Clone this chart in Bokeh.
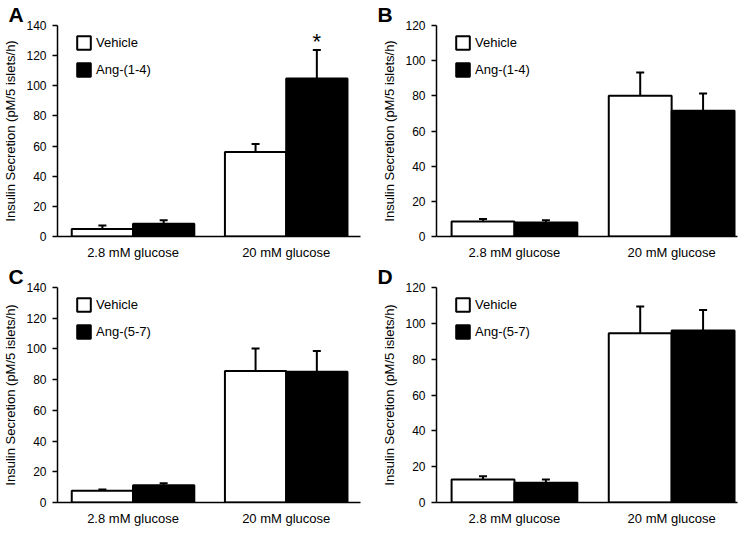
from bokeh.plotting import figure
from bokeh.models import (Range1d, FixedTicker, Whisker, TeeHead, ColumnDataSource)
from bokeh.layouts import column, row
from bokeh.embed import file_html
from bokeh.resources import INLINE
from bokeh.core.properties import value

# ---------------- data ----------------
categories = ["2.8 mM glucose", "20 mM glucose"]
series_names = ["Vehicle", "Ang-(1-4)", "Ang-(5-7)"]

# Panel A: Vehicle vs Ang-(1-4)
a_vehicle = [5.0, 56.0]
a_vehicle_err = [2.3, 5.3]
a_ang = [8.4, 104.9]
a_ang_err = [2.4, 18.8]
a_star = [False, True]

# Panel B: Vehicle vs Ang-(1-4)
b_vehicle = [8.5, 80.0]
b_vehicle_err = [1.4, 13.3]
b_ang = [8.0, 71.5]
b_ang_err = [1.3, 9.8]

# Panel C: Vehicle vs Ang-(5-7)
c_vehicle = [7.6, 85.7]
c_vehicle_err = [0.8, 14.5]
c_ang = [11.3, 85.1]
c_ang_err = [1.3, 13.6]

# Panel D: Vehicle vs Ang-(5-7)
d_vehicle = [12.8, 94.5]
d_vehicle_err = [1.9, 14.9]
d_ang = [11.0, 96.0]
d_ang_err = [1.8, 11.5]

y_ticks_140 = [0, 20, 40, 60, 80, 100, 120, 140]
y_ticks_120 = [0, 20, 40, 60, 80, 100, 120]
y_label = "Insulin Secretion (pM/5 islets/h)"

FONT = "Liberation Sans"


def make_panel(letter, veh, veh_err, ang, ang_err, ang_name, yticks, stars,
               fw, fh, left, right, top, bottom, xr, label_standoff):
    p = figure(frame_width=fw, frame_height=fh, output_backend="svg", toolbar_location=None,
               x_range=Range1d(*xr), y_range=Range1d(yticks[0], yticks[-1]),
               min_border_left=left, min_border_right=right,
               min_border_top=top, min_border_bottom=bottom)
    p.outline_line_color = None
    p.xgrid.grid_line_color = None
    p.ygrid.grid_line_color = None
    p.background_fill_color = "white"
    p.border_fill_color = "white"

    # panel letter as a left-aligned title shifted over the y axis area
    p.title.text = letter
    p.title.align = "left"
    p.title.offset = -(left - 2)
    p.title.standoff = 0
    p.title.text_font = FONT
    p.title.text_font_size = "21px"
    p.title.text_font_style = "bold"
    p.title.text_color = "black"

    centers = [i + 1 for i in range(len(categories))]
    half = 0.2
    xv = [c - half for c in centers]
    xa = [c + half for c in centers]

    p.vbar(x=xv, top=veh, bottom=0, width=2 * half, fill_color="white",
           line_color="black", line_width=2, legend_label=series_names[0])
    p.vbar(x=xa, top=ang, bottom=0, width=2 * half, fill_color="black",
           line_color="black", line_width=2, legend_label=ang_name)

    src = ColumnDataSource(dict(
        x=xv + xa,
        lower=list(veh) + list(ang),
        upper=[m + e for m, e in zip(veh, veh_err)] + [m + e for m, e in zip(ang, ang_err)],
    ))
    w = Whisker(source=src, base="x", lower="lower", upper="upper", dimension="height",
                line_color="black", line_width=2, level="overlay",
                upper_head=TeeHead(size=8, line_color="black", line_width=2),
                lower_head=None)
    p.add_layout(w)

    if stars is not None:
        sx = [xa[i] for i in range(len(xa)) if stars[i]]
        sy = [ang[i] + ang_err[i] for i in range(len(xa)) if stars[i]]
        p.text(x=sx, y=sy, text=["*"] * len(sx), text_align="center",
               text_baseline="alphabetic", text_font=value(FONT),
               text_font_size="22px", text_color="black", y_offset=-9)

    # axes
    p.xaxis.ticker = FixedTicker(ticks=centers)
    p.xaxis.major_label_overrides = {c: lab for c, lab in zip(centers, categories)}
    p.xaxis.major_tick_line_color = None
    p.xaxis.major_tick_out = 0
    p.xaxis.major_tick_in = 0
    p.xaxis.minor_tick_line_color = None
    p.xaxis.axis_line_width = 1.5
    p.xaxis.axis_line_color = "black"
    p.xaxis.major_label_text_font = FONT
    p.xaxis.major_label_text_font_size = "13px"
    p.xaxis.major_label_text_color = "black"
    p.xaxis.major_label_standoff = label_standoff

    p.yaxis.ticker = FixedTicker(ticks=yticks)
    p.yaxis.minor_tick_line_color = None
    p.yaxis.major_tick_in = 0
    p.yaxis.major_tick_out = 5
    p.yaxis.major_tick_line_width = 1.5
    p.yaxis.axis_line_width = 1.5
    p.yaxis.axis_line_color = "black"
    p.yaxis.major_tick_line_color = "black"
    p.yaxis.major_label_text_font = FONT
    p.yaxis.major_label_text_font_size = "12px"
    p.yaxis.major_label_text_color = "black"
    p.yaxis.major_label_standoff = 6
    p.yaxis.axis_label = y_label
    p.yaxis.axis_label_text_font = FONT
    p.yaxis.axis_label_text_font_size = "13px"
    p.yaxis.axis_label_text_font_style = "normal"
    p.yaxis.axis_label_text_color = "black"
    p.yaxis.axis_label_standoff = 5

    # legend
    lg = p.legend[0]
    lg.glyph_width = 17
    lg.glyph_height = 17
    lg.label_height = 17
    lg.spacing = 10
    lg.padding = 0
    lg.margin = 0
    lg.location = (18, fh - 9 - (2 * 17 + 10))
    lg.border_line_color = None
    lg.background_fill_alpha = 0
    lg.label_text_font = FONT
    lg.label_text_font_size = "13px"
    lg.label_text_color = "black"
    lg.label_standoff = 4
    return p


pA = make_panel("A", a_vehicle, a_vehicle_err, a_ang, a_ang_err, series_names[1],
                y_ticks_140, a_star, 303, 211, 51, 15, 20, 24, (0.507, 2.485), 8)
pB = make_panel("B", b_vehicle, b_vehicle_err, b_ang, b_ang_err, series_names[1],
                y_ticks_120, None, 301, 211, 61, 7, 20, 24, (0.504, 2.419), 8)
pC = make_panel("C", c_vehicle, c_vehicle_err, c_ang, c_ang_err, series_names[2],
                y_ticks_140, None, 303, 215, 51, 15, 24, 24, (0.507, 2.485), 8)
pD = make_panel("D", d_vehicle, d_vehicle_err, d_ang, d_ang_err, series_names[2],
                y_ticks_120, None, 301, 215, 61, 7, 24, 24, (0.504, 2.419), 8)

layout = column(row(pA, pB), row(pC, pD))
open("out.html", "w").write(file_html(layout, INLINE))
